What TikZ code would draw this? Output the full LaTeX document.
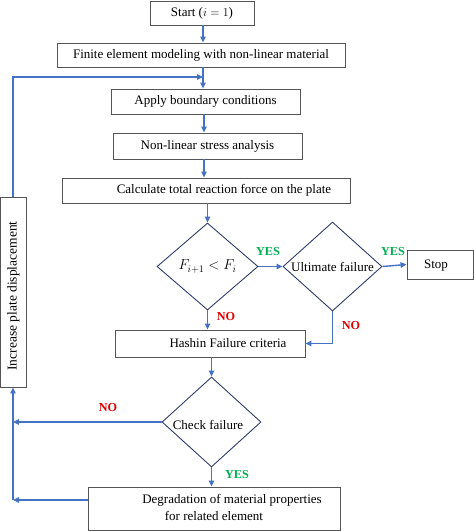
\documentclass[tikz,border=0pt]{standalone}
\usepackage{fontspec}
\setmainfont{Liberation Serif}
\usetikzlibrary{shapes.geometric,arrows.meta}
\definecolor{flowblue}{HTML}{4472C4}
\definecolor{boxgray}{HTML}{555555}
\definecolor{dianavy}{HTML}{2F3D6B}
\definecolor{yesgreen}{HTML}{00B050}
\definecolor{nored}{HTML}{E00000}
\tikzset{
  txt/.style={font=\fontsize{13}{15}\selectfont, inner sep=0pt},
  box/.style={draw=boxgray, line width=0.9pt, rectangle, inner sep=0pt, align=center, txt},
  dia/.style={draw=dianavy, line width=0.9pt, diamond, inner sep=0pt},
  flow/.style={draw=flowblue, line width=1.4pt, -{Triangle[length=6pt,width=5.5pt]}},
  yes/.style={text=yesgreen, font=\bfseries\fontsize{12.2}{14}\selectfont},
  no/.style={text=nored, font=\bfseries\fontsize{12.2}{14}\selectfont}
}
\begin{document}
\begin{tikzpicture}[x=1pt,y=-1pt]
\useasboundingbox (0,0) rectangle (474,531);
\node[box, minimum width=104pt, minimum height=24pt] (start) at (202,13) {Start ($i=1$)};
\node[box, minimum width=288pt, minimum height=24pt] (fem) at (201,55) {Finite element modeling with non-linear material};
\node[box, minimum width=189pt, minimum height=25pt] (apply) at (205.5,101.5) {Apply boundary conditions};
\node[box, minimum width=189pt, minimum height=26pt] (nla) at (207.5,146) {Non-linear stress analysis};
\node[box, minimum width=288pt, minimum height=25pt] (calc) at (206,190.5) {};
\node[txt] (calct) at (224,190.5) {Calculate total reaction force on the plate};
\node[dia, minimum width=101pt, minimum height=87pt] (d1) at (207.5,266.5) {};
\node[txt] (d1t) at (d1.center) {\fontsize{14}{16}\selectfont$F_{i+1} < F_i$};
\node[dia, minimum width=99pt, minimum height=89pt] (d2) at (332.5,266.5) {};
\node[txt] (d2t) at (332.5,267) {Ultimate failure};
\node[box, minimum width=66pt, minimum height=29pt] (stop) at (440,264.5) {};
\node[txt] (stopt) at (436,266) {Stop};
\node[box, minimum width=190pt, minimum height=27pt] (hashin) at (210,343.5) {};
\node[txt] (hashint) at (228,343.5) {Hashin Failure criteria};
\node[dia, minimum width=99pt, minimum height=90pt] (d3) at (211.5,422) {};
\node[txt] (d3t) at (208,425) {Check failure};
\node[box, minimum width=26pt, minimum height=190pt] (inc) at (13,292) {};
\node[rotate=90, font=\fontsize{13.5}{15}\selectfont, inner sep=0pt] (inctext) at (13.5,296) {Increase plate displacement};
\node[box, minimum width=252pt, minimum height=43pt] (deg) at (214,508.5) {};
\node[txt] (degl1) at (232,500) {Degradation of material properties};
\node[txt] (degl2) at (214,515.5) {for related element};

\coordinate (top) at (13,77);
\coordinate (feedend) at (203,77);
\coordinate (xa) at (203,0);
\coordinate (xb) at (204,0);
\coordinate (d2corner) at (332.5,343.5);
\coordinate (c1) at (13,422);
\coordinate (c2) at (13,500);

\draw[flow] (start.south -| xa) -- (fem.north -| xa);
\draw[flow] (fem.south -| xa) -- (apply.north -| xa);
\draw[flow] (inc.north) -- (top) -- (feedend);
\draw[flow] (apply.south -| xb) -- (nla.north -| xb);
\draw[flow] (nla.south -| xb) -- (calc.north -| xb);
\draw[flow] (calc.south -| d1.north) -- (d1.north);
\draw[flow] (d1.east) -- (d2.west);
\draw[flow] (d2.east) -- (stop.west);
\draw[flow] (d1.south) -- (hashin.north -| d1.south);
\draw[flow] (d2.south) -- (d2corner) -- (hashin.east);
\draw[flow] (hashin.south -| d3.north) -- (d3.north);
\draw[flow] (d3.south) -- (deg.north -| d3.south);
\draw[flow] (d3.west) -- (c1);
\draw[flow] (deg.west |- c2) -- (c2);
\draw[flow] (c2) -- (inc.south);

\node[yes] (y1) at (268,252) {YES};
\node[yes] (y2) at (393,252) {YES};
\node[no] (n1) at (226,317) {NO};
\node[no] (n2) at (351,326) {NO};
\node[no] (n3) at (108,408) {NO};
\node[yes] (y3) at (237,475) {YES};
\end{tikzpicture}
\end{document}
